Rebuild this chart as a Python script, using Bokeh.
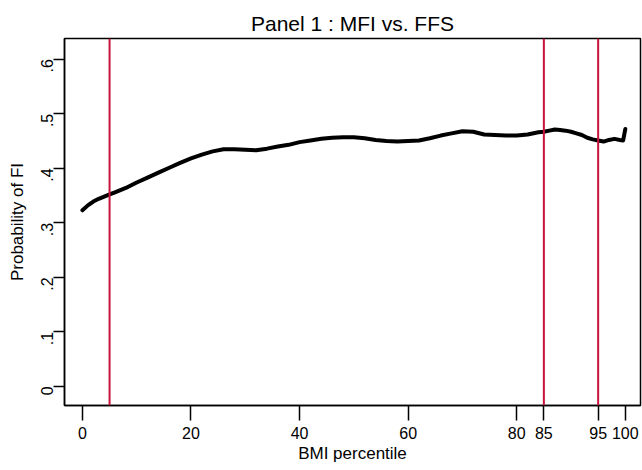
from bokeh.plotting import figure
from bokeh.models import Range1d, FixedTicker, Span, Title
from bokeh.embed import file_html
from bokeh.resources import INLINE
import math

# data
bmi_pct = [0, 1, 2, 3, 4, 5, 6, 7, 8, 9, 10, 12, 14, 16, 18, 20, 22, 24, 26, 28,
           30, 32, 34, 36, 38, 40, 42, 44, 46, 48, 50, 52, 54, 56, 58, 60, 62, 64,
           66, 68, 70, 72, 74, 76, 78, 80, 82, 84, 85, 86, 87, 88, 89, 90, 91, 92,
           93, 94, 95, 96, 97, 98, 99, 99.6, 100]
prob_fi = [0.323, 0.332, 0.339, 0.344, 0.348, 0.352, 0.356, 0.360, 0.364, 0.369,
           0.374, 0.383, 0.392, 0.401, 0.410, 0.418, 0.425, 0.431, 0.435, 0.435,
           0.434, 0.433, 0.436, 0.440, 0.443, 0.448, 0.451, 0.454, 0.456, 0.457,
           0.457, 0.455, 0.452, 0.450, 0.449, 0.450, 0.451, 0.455, 0.460, 0.464,
           0.468, 0.467, 0.462, 0.461, 0.460, 0.460, 0.462, 0.466, 0.467, 0.469,
           0.471, 0.470, 0.469, 0.467, 0.464, 0.461, 0.456, 0.453, 0.451, 0.449,
           0.452, 0.454, 0.452, 0.451, 0.472]
cutoffs = [5, 85, 95]
x_ticks = [0, 20, 40, 60, 80, 85, 95, 100]
y_ticks = [0, 0.1, 0.2, 0.3, 0.4, 0.5, 0.6]
y_tick_labels = ["0", ".1", ".2", ".3", ".4", ".5", ".6"]

FONT = "Liberation Sans"

p = figure(width=642, height=470, output_backend="svg", toolbar_location=None,
           x_range=Range1d(-3.3, 102.8), y_range=Range1d(-0.035, 0.638),
           min_border_left=64, min_border_right=2, min_border_top=38,
           min_border_bottom=65)
p.title = Title(text="Panel 1 : MFI vs. FFS", align="center",
                text_font=FONT, text_font_size="21px", text_font_style="normal",
                text_color="black", standoff=8)
p.background_fill_color = "white"
p.border_fill_color = "white"
p.outline_line_color = "black"
p.outline_line_width = 1.5
p.grid.visible = False

for c in cutoffs:
    p.add_layout(Span(location=c, dimension="height", line_color="#c8143c",
                      line_width=2))

p.line(bmi_pct, prob_fi, line_color="black", line_width=4, line_cap="round",
       line_join="round")

xa = p.xaxis[0]
xa.ticker = FixedTicker(ticks=x_ticks)
xa.minor_tick_line_color = None
xa.major_tick_in = 0
xa.major_tick_out = 15
xa.major_tick_line_width = 1.5
xa.major_tick_line_color = "black"
xa.axis_line_width = 1.5
xa.axis_line_color = "black"
xa.major_label_text_font = FONT
xa.major_label_text_font_size = "16px"
xa.major_label_text_color = "black"
xa.major_label_standoff = 6
xa.axis_label = "BMI percentile"
xa.axis_label_text_font = FONT
xa.axis_label_text_font_size = "17px"
xa.axis_label_text_font_style = "normal"
xa.axis_label_text_color = "black"
xa.axis_label_standoff = 2

ya = p.yaxis[0]
ya.ticker = FixedTicker(ticks=y_ticks)
ya.major_label_overrides = {t: l for t, l in zip(y_ticks, y_tick_labels)}
ya.minor_tick_line_color = None
ya.major_tick_in = 0
ya.major_tick_out = 11
ya.major_tick_line_width = 1.5
ya.major_tick_line_color = "black"
ya.axis_line_width = 1.5
ya.axis_line_color = "black"
ya.major_label_orientation = math.pi / 2
ya.major_label_text_font = FONT
ya.major_label_text_font_size = "16px"
ya.major_label_text_color = "black"
ya.major_label_standoff = 6
ya.axis_label = "Probability of FI"
ya.axis_label_text_font = FONT
ya.axis_label_text_font_size = "17px"
ya.axis_label_text_font_style = "normal"
ya.axis_label_text_color = "black"
ya.axis_label_standoff = 6

open("out.html", "w").write(file_html(p, INLINE))
